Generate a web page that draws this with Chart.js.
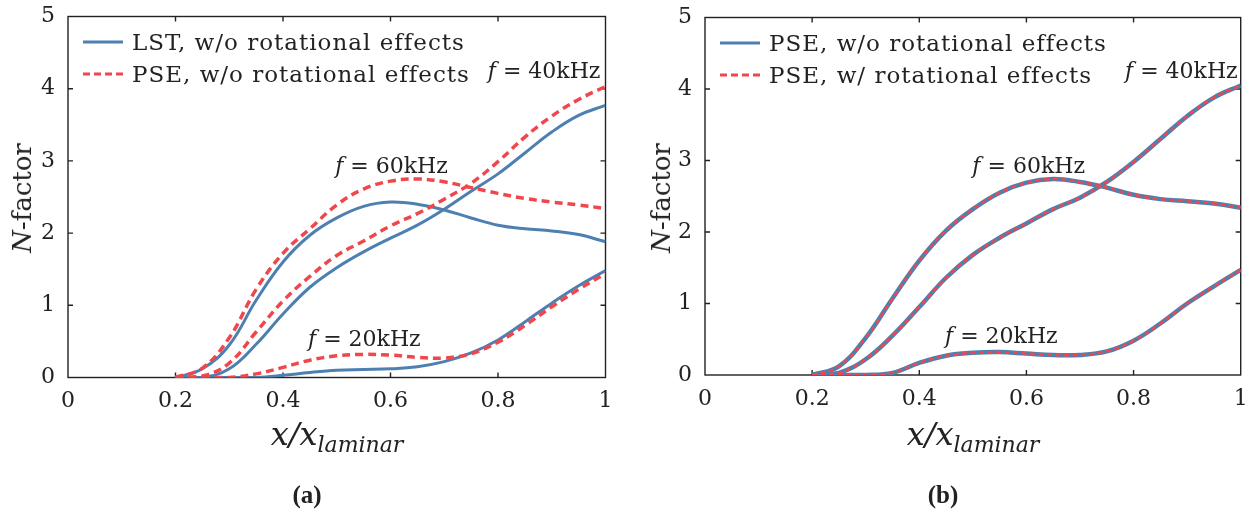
<!DOCTYPE html>
<html>
<head>
<meta charset="utf-8">
<script src="https://cdn.jsdelivr.net/npm/chart.js@4.4.0/dist/chart.umd.min.js"></script>
<style>
  body { margin: 0; background: #fff; width: 1253px; height: 513px; position: relative; overflow: hidden;
         font-family: "DejaVu Serif", serif; color: #222; }
  .panel { position: absolute; top: 0; height: 420px; }
  .txt { position: absolute; white-space: nowrap; line-height: 1; }
  .ann { font-size: 22px; transform: translateY(-50%); }
  .leg { display: flex; align-items: center; font-size: 23px; letter-spacing: 1px; transform: translateY(-50%); }
  .leg .sw { width: 40px; height: 3px; margin-right: 9px; }
  .xt { font-size: 32px; font-style: italic; top: 418px; transform: translateX(-50%); }
  .xt sub { font-size: 22px; vertical-align: -7px; }
  .yt { font-size: 26px; transform: translate(-50%, -50%) rotate(-90deg); }
  .cap { font-family: "Liberation Serif", serif; font-weight: bold; font-size: 25px; top: 482px; transform: translateX(-50%); }
</style>
</head>
<body>
<div class="panel" style="left:0;width:625px"><canvas id="chartA"></canvas></div>
<div class="panel" style="left:630px;width:623px"><canvas id="chartB"></canvas></div>

<div class="txt yt" style="left:22px;top:198px"><i>N</i>-factor</div>
<div class="txt yt" style="left:661px;top:198px"><i>N</i>-factor</div>
<div class="txt xt" style="left:337px">x/x<sub>laminar</sub></div>
<div class="txt xt" style="left:973px">x/x<sub>laminar</sub></div>
<div class="txt cap" style="left:307px">(a)</div>
<div class="txt cap" style="left:943px">(b)</div>

<script>
// x positions along the plate (x / x_laminar)
const xPos = [0.20, 0.25, 0.30, 0.35, 0.40, 0.45, 0.50, 0.55, 0.60, 0.65, 0.70, 0.75, 0.80, 0.85, 0.90, 0.95, 1.00];

// (a) LST vs PSE, no rotation
const lst60 = [0, 0.12, 0.45, 1.07, 1.60, 1.97, 2.21, 2.37, 2.43, 2.40, 2.32, 2.21, 2.11, 2.06, 2.03, 1.98, 1.88];
const pse60 = [0, 0.13, 0.55, 1.22, 1.72, 2.06, 2.39, 2.61, 2.72, 2.75, 2.71, 2.63, 2.55, 2.48, 2.43, 2.39, 2.34];
const lst40 = [0, 0.00, 0.12, 0.46, 0.88, 1.25, 1.52, 1.74, 1.93, 2.11, 2.33, 2.58, 2.82, 3.11, 3.40, 3.63, 3.77];
const pse40 = [0, 0.02, 0.20, 0.63, 1.06, 1.40, 1.69, 1.89, 2.10, 2.27, 2.47, 2.69, 2.99, 3.33, 3.62, 3.85, 4.03];
const lst20 = [0, 0, 0, 0.00, 0.03, 0.07, 0.10, 0.11, 0.12, 0.15, 0.22, 0.34, 0.52, 0.77, 1.03, 1.27, 1.48];
const pse20 = [0, 0, 0, 0.05, 0.14, 0.24, 0.30, 0.32, 0.31, 0.28, 0.27, 0.33, 0.49, 0.72, 0.98, 1.22, 1.44];

// (b) PSE without / with rotational effects
const noRot60 = [0, 0.12, 0.52, 1.07, 1.60, 2.02, 2.32, 2.55, 2.69, 2.74, 2.70, 2.62, 2.52, 2.46, 2.43, 2.40, 2.34];
const noRot40 = [0, 0.03, 0.22, 0.55, 0.95, 1.36, 1.68, 1.92, 2.12, 2.32, 2.48, 2.70, 2.98, 3.30, 3.62, 3.88, 4.05];
const noRot20 = [0, 0, 0, 0.03, 0.17, 0.27, 0.31, 0.32, 0.30, 0.28, 0.28, 0.33, 0.48, 0.72, 1.00, 1.24, 1.47];
const rot60 = [0, 0.12, 0.52, 1.07, 1.60, 2.02, 2.32, 2.55, 2.69, 2.74, 2.70, 2.62, 2.52, 2.46, 2.43, 2.40, 2.34];
const rot40 = [0, 0.03, 0.22, 0.55, 0.95, 1.36, 1.68, 1.92, 2.12, 2.32, 2.48, 2.70, 2.98, 3.30, 3.62, 3.88, 4.05];
const rot20 = [0, 0, 0, 0.03, 0.17, 0.27, 0.31, 0.32, 0.30, 0.28, 0.28, 0.33, 0.48, 0.72, 1.00, 1.24, 1.47];

const xTicks = [0, 0.2, 0.4, 0.6, 0.8, 1];
const xTickLabels = ['0', '0.2', '0.4', '0.6', '0.8', '1'];
const yTicks = [0, 1, 2, 3, 4, 5];
const yTickLabels = ['0', '1', '2', '3', '4', '5'];

const legendA = ['LST, w/o rotational effects', 'PSE, w/o rotational effects'];
const legendB = ['PSE, w/o rotational effects', 'PSE, w/ rotational effects'];
const freqs = ['40kHz', '60kHz', '20kHz'];

const BLUE = '#4d80b1';
const RED = '#f0474c';
const INK = '#222';

function pts(arr) {
    return xPos.map((x, i) => ({ x: x, y: arr[i] }));
}

// box around the plot plus inward ticks on all four sides
const framePlugin = {
    id: 'frame',
    beforeDatasetsDraw(chart) {
        const { ctx, chartArea: a, scales } = chart;
        ctx.save();
        ctx.strokeStyle = INK;
        ctx.lineWidth = 1.4;
        ctx.strokeRect(a.left, a.top, a.right - a.left, a.bottom - a.top);
        ctx.beginPath();
        xTicks.slice(1, -1).forEach(v => {
            const px = scales.x.getPixelForValue(v);
            ctx.moveTo(px, a.bottom); ctx.lineTo(px, a.bottom - 5);
            ctx.moveTo(px, a.top); ctx.lineTo(px, a.top + 5);
        });
        yTicks.slice(1, -1).forEach(v => {
            const py = scales.y.getPixelForValue(v);
            ctx.moveTo(a.left, py); ctx.lineTo(a.left + 5, py);
            ctx.moveTo(a.right, py); ctx.lineTo(a.right - 5, py);
        });
        ctx.stroke();
        ctx.restore();
    }
};

function makeChart(id, datasets, box) {
    const tickFont = { family: 'DejaVu Serif', size: 22 };
    return new Chart(document.getElementById(id), {
        type: 'line',
        data: { datasets: datasets },
        options: {
            responsive: true,
            maintainAspectRatio: false,
            animation: false,
            layout: { padding: { top: box.top, right: box.right, left: 0, bottom: 0 } },
            plugins: { legend: { display: false }, tooltip: { enabled: false } },
            elements: { point: { radius: 0 }, line: { tension: 0.4, borderCapStyle: 'butt' } },
            scales: {
                x: {
                    type: 'linear', min: 0, max: 1,
                    afterBuildTicks: s => { s.ticks = xTicks.map(v => ({ value: v })); },
                    afterFit: s => { s.height = box.xh; s.paddingLeft = 0; s.paddingRight = 0; },
                    grid: { display: false, drawTicks: false },
                    border: { display: false },
                    ticks: { padding: 11, color: INK, font: tickFont, maxRotation: 0, autoSkip: false,
                             callback: (v, i) => xTickLabels[i] }
                },
                y: {
                    type: 'linear', min: 0, max: 5,
                    afterBuildTicks: s => { s.ticks = yTicks.map(v => ({ value: v })); },
                    afterFit: s => { s.width = box.yw; s.paddingTop = 0; s.paddingBottom = 0; },
                    grid: { display: false, drawTicks: false },
                    border: { display: false },
                    ticks: { padding: 13, color: INK, font: tickFont, callback: (v, i) => yTickLabels[i] }
                }
            }
        },
        plugins: [framePlugin]
    });
}

function line(arr, color, width, dash, order) {
    return { data: pts(arr), borderColor: color, borderWidth: width, borderDash: dash, order: order, fill: false };
}

const chartA = makeChart('chartA', [
    line(pse40, RED, 3.5, [8, 5], 0),
    line(pse60, RED, 3.5, [8, 5], 0),
    line(pse20, RED, 3.5, [8, 5], 0),
    line(lst40, BLUE, 3, [], 1),
    line(lst60, BLUE, 3, [], 1),
    line(lst20, BLUE, 3, [], 1)
], { top: 16.5, right: 19.5, xh: 42.5, yw: 68 });

const chartB = makeChart('chartB', [
    line(rot40, RED, 2.5, [5, 3.5], 0),
    line(rot60, RED, 2.5, [5, 3.5], 0),
    line(rot20, RED, 2.5, [5, 3.5], 0),
    line(noRot40, BLUE, 4.5, [], 1),
    line(noRot60, BLUE, 4.5, [], 1),
    line(noRot20, BLUE, 4.5, [], 1)
], { top: 17.5, right: 12.3, xh: 45, yw: 75 });

// legend and frequency labels as html text placed through the chart scales
function addText(cls, html, left, top) {
    const d = document.createElement('div');
    d.className = 'txt ' + cls;
    d.innerHTML = html;
    d.style.left = left + 'px';
    d.style.top = top + 'px';
    document.body.appendChild(d);
    return d;
}

function decorate(chart, offsetX, legend, labelAt) {
    const a = chart.chartArea;
    legend.forEach((t, i) => {
        const sw = i === 0
            ? 'background:' + BLUE
            : 'background:repeating-linear-gradient(90deg,' + RED + ' 0 7px,transparent 7px 11px)';
        addText('leg', '<span class="sw" style="' + sw + '"></span><span>' + t + '</span>',
                offsetX + a.left + 15, a.top + 25.5 + i * 32);
    });
    freqs.forEach((f, i) => {
        const p = labelAt[i];
        addText('ann', '<i>f</i> = ' + f,
                offsetX + chart.scales.x.getPixelForValue(p[0]), chart.scales.y.getPixelForValue(p[1]));
    });
}

decorate(chartA, 0, legendA, [[0.781, 4.245], [0.497, 2.93], [0.4465, 0.54]]);
decorate(chartB, 630, legendB, [[0.784, 4.245], [0.499, 2.92], [0.448, 0.54]]);
</script>
</body>
</html>
